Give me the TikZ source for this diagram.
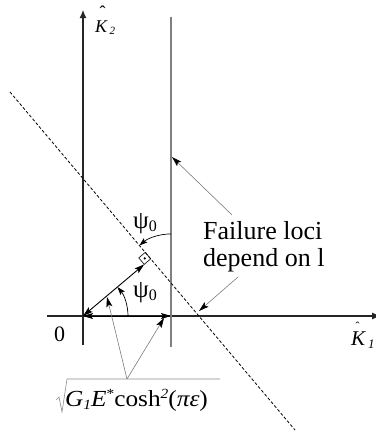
\documentclass[tikz,border=0pt]{standalone}
\usepackage{fontspec}
\usepackage{graphicx}
\setmainfont{Liberation Serif}
\usetikzlibrary{arrows.meta,calc}
\begin{document}
\begin{tikzpicture}[x=1pt,y=-1pt,
  axisline/.style={line width=1.1pt,draw=black!85},
  locus/.style={line width=1.4pt,draw=black!50},
  dimline/.style={line width=0.9pt,draw=black},
  leader/.style={line width=0.55pt,draw=black!55},
  headtip/.style={-{Stealth[length=10pt,width=6pt,inset=2pt,color=black]}},
  archead/.style={-{Stealth[length=8pt,width=5.5pt,inset=1.5pt,color=black]}},
  bothtips/.style={{Stealth[length=10pt,width=6pt,inset=2pt]}-{Stealth[length=10pt,width=6pt,inset=2pt]}},
  txt/.style={inner sep=0pt,anchor=base west},
]
\useasboundingbox (0,0) rectangle (375,431);
\fill[white] (0,0) rectangle (375,431);
% key points
\coordinate (O) at (83,316);
\coordinate (Ytop) at (83,10);
\coordinate (Ybot) at (83,345);
\coordinate (Xl) at (47,316);
\coordinate (Xr) at (381,316);
\coordinate (Rt) at (171,17);
\coordinate (Rb) at (171,347);
\coordinate (R) at (171,316);
\coordinate (Da) at (10,92);
\coordinate (Db) at (295,430);
\coordinate (F) at ($(Da)!(O)!(Db)$);
\coordinate (M1) at ($(F)!8.5pt!(O)$);
\coordinate (M2) at ($(F)!8.5pt!(Da)$);
\coordinate (M3) at ($(M1)+(M2)-(F)$);
\coordinate (C2) at (intersection of Da--Db and Rt--Rb);
% axes and loci
\draw[axisline,-{Latex[length=8pt,width=7pt]}] (Ybot) -- (Ytop);
\draw[axisline,-{Latex[length=9pt,width=7pt]}] (Xl) -- (Xr);
\draw[locus] (Rt) -- (Rb);
\draw[dash pattern=on 3pt off 2pt,line width=0.8pt] (Da) -- (Db);
% dimension arrows
\draw[dimline,bothtips] (O) -- (R);
\draw[dimline,bothtips] (O) -- (M1);
\draw[line width=0.6pt] (F) -- (M1) -- (M3) -- (M2) -- cycle;
\fill ($(F)!0.5!(M3)$) circle (1.2);
% angle arcs
\draw[line width=0.7pt,archead] ($(O)+(45,0)$) arc[start angle=0,end angle=-40,radius=45];
\draw[line width=0.7pt,archead] ($(C2)+(0,-49)$) arc[start angle=-90,end angle=-130,radius=49];
% labels
\node[txt,font=\fontsize{18}{18}\selectfont\itshape] (k2) at (95,32)
  {\rlap{\hspace{4.5pt}\raisebox{14pt}{\upshape ˆ}}K\hspace{2.5pt}\raisebox{-2pt}{\fontsize{11}{11}\selectfont 2}};
\node[txt,font=\fontsize{21}{21}\selectfont\itshape] (k1) at (351,345)
  {\rlap{\hspace{4.5pt}\raisebox{15pt}{\upshape\fontsize{12}{12}\selectfont ˆ}}K\hspace{3pt}\raisebox{-3pt}{\fontsize{13}{13}\selectfont 1}};
\node[txt,font=\fontsize{22}{22}\selectfont] (zero) at (54,341) {0};
\node[txt,font=\fontsize{25}{25}\selectfont] (psiA) at (133,297) {ψ\raisebox{-3pt}{\fontsize{16}{16}\selectfont 0}};
\node[txt,font=\fontsize{25}{25}\selectfont] (psiB) at (133,228) {ψ\raisebox{-3pt}{\fontsize{16}{16}\selectfont 0}};
\node[txt,font=\fontsize{26}{26}\selectfont] (fail1) at (203,239) {Failure loci};
\node[txt,font=\fontsize{26}{26}\selectfont] (fail2) at (203,266) {depend on l};
% leaders
\coordinate (L1s) at (232,215);
\coordinate (L1e) at (172,157);
\coordinate (L2s) at (238,277);
\coordinate (L2e) at (199,311);
\draw[leader,headtip] (L1s) -- (L1e);
\draw[leader,headtip] (L2s) -- (L2e);
% formula
\node[txt,font=\fontsize{23}{23}\selectfont] (formula) at (65,406) {\scalebox{1.1}[1]{\textit{G}\raisebox{-3pt}{\fontsize{14}{14}\selectfont\textit{1}}\textit{E}\raisebox{8pt}{\fontsize{14}{14}\selectfont *}cosh\raisebox{8pt}{\fontsize{14}{14}\selectfont\textit{2}}(\textit{πε})}};
\coordinate (Fm) at (127,379);
\coordinate (T1) at (107,297);
\coordinate (T2) at (164,318);
\draw[leader,headtip] (Fm) -- (T1);
\draw[leader,headtip] (Fm) -- (T2);
\draw[line width=0.6pt,draw=black!45] (56,400) -- (59,397) -- (62,412) -- (67,379) -- (220,379);
\end{tikzpicture}
\end{document}
